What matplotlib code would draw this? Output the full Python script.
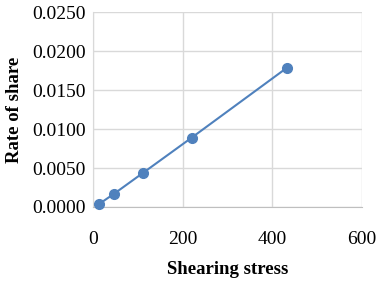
import matplotlib
matplotlib.use('Agg')
import matplotlib.pyplot as plt

# data
shearing_stress = [14, 47, 112, 220, 433]
rate_of_share = [0.0004, 0.0017, 0.0044, 0.0089, 0.0179]

x_ticks = [0, 200, 400, 600]
y_ticks = [0.0, 0.005, 0.010, 0.015, 0.020, 0.025]

plt.rcParams['font.family'] = ['Liberation Serif', 'DejaVu Serif']

fig = plt.figure(figsize=(3.86, 2.83), dpi=100)
ax = fig.add_axes([0.241, 0.2686, 0.697, 0.688])

ax.plot(shearing_stress, rate_of_share, color='#4F81BD', linewidth=1.5,
        marker='o', markersize=7, zorder=3, clip_on=False)

ax.set_xlim(0, 600)
ax.set_ylim(0, 0.025)
ax.set_xticks(x_ticks)
ax.set_yticks(y_ticks)
ax.set_yticklabels([f'{v:.4f}' for v in y_ticks])
ax.tick_params(axis='both', length=0, labelsize=14, pad=5)
ax.tick_params(axis='x', pad=17)

ax.grid(True, color='#d9d9d9', linewidth=1)
ax.set_axisbelow(True)
for side in ['top', 'right']:
    ax.spines[side].set_visible(False)
ax.spines['left'].set_color('#d9d9d9')
ax.spines['bottom'].set_color('#bfbfbf')

ax.set_xlabel('Shearing stress', fontsize=13.5, fontweight='bold', labelpad=10)
ax.set_ylabel('Rate of share', fontsize=13.5, fontweight='bold', labelpad=7)

fig.savefig('out.png', dpi=100)
